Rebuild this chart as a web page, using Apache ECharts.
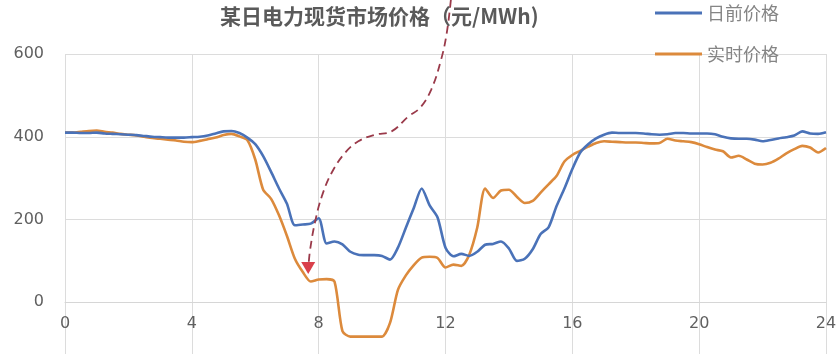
<!DOCTYPE html>
<html>
<head>
<meta charset="utf-8">
<script src="https://cdn.jsdelivr.net/npm/echarts@6/dist/echarts.min.js"></script>
<style>
  html, body { margin: 0; padding: 0; background: #ffffff; }
  #chart { width: 838px; height: 354px; }
</style>
</head>
<body>
<div id="chart"></div>
<script>
// Hours of the day, one point every 15 minutes
const hours = [];
for (let i = 0; i <= 96; i++) hours.push(i / 4);

// Day-ahead price (元/MWh)
const dayAhead = [
  410, 410, 409, 409, 410, 408, 407, 406,
  405, 404, 402, 400, 399, 398, 398, 398,
  399, 400, 403, 408, 413, 414, 409, 398,
  382, 353, 315, 275, 238, 186, 188, 190,
  203, 142, 147, 140, 122, 115, 114, 114,
  112, 103, 132, 180, 228, 275, 234, 205,
  132, 111, 117, 112, 122, 139, 141, 147,
  130, 100, 105, 128, 165, 181, 232, 275,
  322, 362, 382, 396, 405, 410, 409, 409,
  409, 408, 406, 405, 406, 409, 409, 408,
  408, 408, 406, 400, 396, 395, 395, 393,
  389, 392, 396, 399, 403, 413, 408, 407,
  411
];

// Real-time price (元/MWh)
const realTime = [
  410, 410, 412, 414, 415, 412, 410, 407,
  405, 403, 400, 397, 395, 393, 391, 388,
  387, 390, 394, 398, 404, 407, 401, 392,
  345, 272, 250, 210, 160, 105, 73, 50,
  55, 56, 50, -70, -83, -83, -83, -83,
  -83, -50, 30, 65, 90, 108, 110, 107,
  84, 91, 88, 115, 180, 275, 252, 270,
  272, 255, 240, 245, 265, 285, 305, 340,
  356, 366, 376, 385, 389, 388, 387, 386,
  386, 385, 384, 385, 395, 391, 389, 387,
  382, 375, 369, 365, 350, 354, 345, 335,
  333, 337, 347, 360, 370, 378, 374, 362,
  373
];

// Dashed call-out curve and its arrow head, in (hour, price) units
const calloutHours  = [12.17, 12.04, 11.86, 11.55, 11.20, 10.83, 10.30, 9.78, 9.25, 8.83, 8.41, 8.10, 7.88, 7.73, 7.69];
const calloutPrices = [731, 651, 586, 514, 470, 449, 413, 405, 389, 361, 313, 256, 192, 127, 98];
const arrowHead = [7.67, 83];

const titleText = '某日电力现货市场价格（元/MWh)';
const seriesNames = ['日前价格', '实时价格'];
const xTicks = { min: 0, max: 24, interval: 4 };
const yTicks = { min: -200, max: 600, interval: 200 };

const zip = (xs, ys) => xs.map((x, i) => [x, ys[i]]);
const thinBar = 'path://M0 0H100V6H0Z';

// Plot area; the lower part of the value range runs past the bottom edge
const plot = { left: 65, right: 12, top: 54, height: 331 };
// The hour axis sits on the zero price line
const zeroLift = -plot.height * (0 - yTicks.min) / (yTicks.max - yTicks.min);

const chart = echarts.init(document.getElementById('chart'), null, { renderer: 'canvas' });
chart.setOption({
  backgroundColor: '#ffffff',
  animation: false,
  title: {
    text: titleText,
    left: 220,
    top: 6,
    padding: 0,
    textStyle: {
      fontFamily: '"Noto Sans CJK SC", sans-serif',
      fontSize: 21,
      fontWeight: 'bold',
      color: '#5a5a5a'
    }
  },
  legend: {
    data: seriesNames.map(n => ({ name: n, icon: thinBar })),
    orient: 'vertical',
    left: 655,
    top: 4,
    padding: 0,
    itemWidth: 47,
    itemHeight: 17,
    itemGap: 23,
    symbolKeepAspect: true,
    textStyle: {
      fontFamily: '"Noto Sans CJK SC", sans-serif',
      fontSize: 18,
      color: '#858585'
    }
  },
  grid: Object.assign({ containLabel: false, outerBoundsMode: 'none' }, plot),
  xAxis: {
    type: 'value',
    min: xTicks.min, max: xTicks.max, interval: xTicks.interval,
    offset: zeroLift,
    axisLine: { show: true, onZero: false, lineStyle: { color: '#d6d6d6', width: 1 } },
    axisTick: { show: false },
    axisLabel: { margin: 14, fontSize: 16, color: '#606060', fontFamily: '"DejaVu Sans", sans-serif' },
    splitLine: { show: true, lineStyle: { color: '#dcdcdc', width: 1 } }
  },
  yAxis: {
    type: 'value',
    min: yTicks.min, max: yTicks.max, interval: yTicks.interval,
    axisLine: { show: false, onZero: false },
    axisTick: { show: false },
    axisLabel: { margin: 21, fontSize: 16, color: '#606060', fontFamily: '"DejaVu Sans", sans-serif' },
    splitLine: { show: true, lineStyle: { color: '#dcdcdc', width: 1 } }
  },
  series: [
    {
      name: seriesNames[0],
      type: 'line',
      data: zip(hours, dayAhead),
      symbol: 'none',
      smooth: 0.25,
      lineStyle: { color: '#4a72b8', width: 2.6 },
      itemStyle: { color: '#4a72b8' },
      z: 3
    },
    {
      name: seriesNames[1],
      type: 'line',
      data: zip(hours, realTime),
      symbol: 'none',
      smooth: 0.25,
      lineStyle: { color: '#dc8a3c', width: 2.6 },
      itemStyle: { color: '#dc8a3c' },
      z: 2
    },
    {
      name: 'callout',
      type: 'line',
      data: zip(calloutHours, calloutPrices),
      symbol: 'none',
      smooth: 0.4,
      clip: false,
      silent: true,
      lineStyle: { color: '#9a3a4a', width: 1.8, type: [8, 5] },
      z: 4
    },
    {
      name: 'arrow',
      type: 'scatter',
      data: [arrowHead],
      symbol: 'triangle',
      symbolRotate: 180,
      symbolSize: [14, 12],
      itemStyle: { color: '#d0101e' },
      silent: true,
      z: 5
    }
  ]
});
</script>
</body>
</html>
